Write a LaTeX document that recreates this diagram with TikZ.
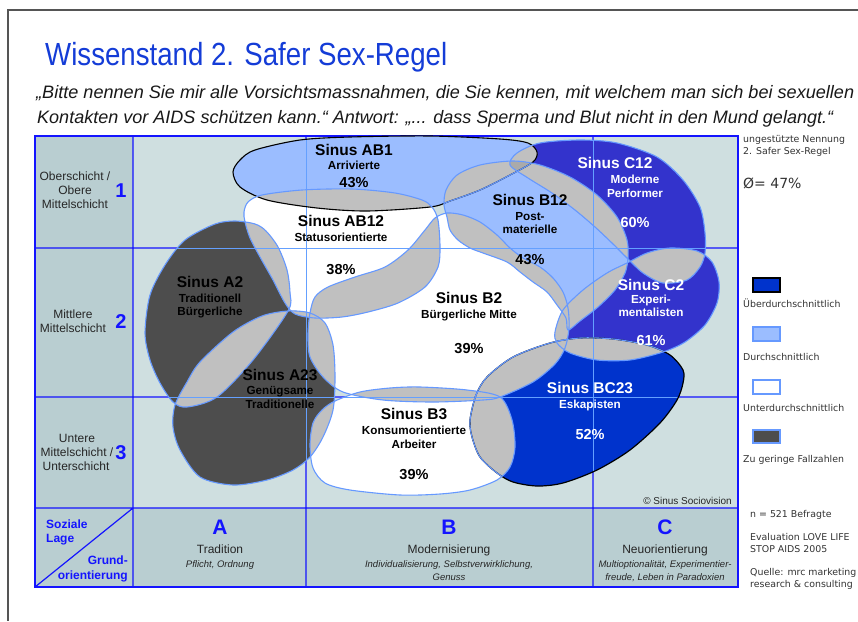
\documentclass[tikz,border=0pt]{standalone}
\usepackage{fontspec}
\usepackage{graphicx}
\setmainfont{Liberation Sans}
\newfontfamily\verd{DejaVu Sans}
\definecolor{titleblue}{RGB}{20,60,215}
\definecolor{gridblue}{RGB}{20,20,255}
\definecolor{lgridc}{RGB}{100,160,255}
\definecolor{bgchart}{RGB}{207,223,224}
\definecolor{bglabel}{RGB}{185,206,209}
\definecolor{lightfill}{RGB}{155,189,255}
\definecolor{midblue}{RGB}{51,51,204}
\definecolor{deepblue}{RGB}{0,51,204}
\definecolor{darkfill}{RGB}{77,77,77}
\definecolor{ovgray}{RGB}{192,192,192}
\definecolor{ovgrayd}{RGB}{170,170,170}
\definecolor{outlc}{RGB}{102,153,255}
\definecolor{legtext}{RGB}{51,51,51}
\definecolor{framec}{RGB}{85,85,85}

\newcommand\sABone{plot[smooth cycle] coordinates{(233,172) (240,160) (255,150) (300,140) (350,137) (430,136) (500,139) (528,143) (537,152) (533,162) (510,175) (480,190) (450,201) (430,207) (367,211) (317,208) (267,200) (240,187)}}
\newcommand\sABtw{plot[smooth cycle] coordinates{(248,202) (262,195) (302,190) (352,189) (395,193) (422,200) (432,207) (438,220) (440,247) (438,267) (425,287) (398,303) (368,312) (342,317) (315,318) (295,314) (285,303) (273,280) (260,257) (250,238) (245,222) (244,212)}}
\newcommand\sAtwo{plot[smooth cycle] coordinates{(215,224) (235,221) (255,224) (266,231) (278,247) (287,270) (290,293) (288,311) (253,360) (217,397) (187,407) (173,402) (160,383) (150,360) (145,333) (150,295) (165,265) (185,240)}}
\newcommand\sAtt{plot[smooth cycle] coordinates{(175,405) (187,382) (200,362) (233,332) (262,316) (288,311) (310,313) (325,323) (333,345) (335,377) (333,410) (323,437) (310,457) (293,470) (267,480) (233,485) (200,477) (180,450) (173,427)}}
\newcommand\sBtwo{plot[smooth cycle] coordinates{(435,218) (447,213) (463,215) (480,222) (497,235) (510,248) (523,258) (540,267) (553,278) (563,292) (568,308) (569,328) (565,348) (555,364) (533,382) (500,397) (483,400) (433,402) (383,400) (343,392) (323,377) (310,357) (308,335) (310,313) (315,297) (328,287) (355,277) (385,267) (408,250) (425,230)}}
\newcommand\sBthree{plot[smooth cycle] coordinates{(310,445) (313,423) (322,410) (335,401) (360,392) (390,388) (420,387) (467,390) (500,397) (512,420) (515,447) (510,467) (497,480) (470,490) (440,494) (400,495) (350,490) (325,483) (313,468)}}
\newcommand\sBtw{plot[smooth cycle] coordinates{(447,217) (444,205) (446,190) (457,175) (480,165) (513,161) (540,165) (570,177) (597,195) (617,217) (627,240) (628,258) (625,273) (615,290) (598,307) (580,321) (568,330) (566,318) (557,305) (547,292) (533,282) (520,272) (507,262) (483,253) (470,248) (458,240) (450,230)}}
\newcommand\sCtw{plot[smooth cycle] coordinates{(510,165) (517,153) (540,143) (580,140) (617,143) (657,157) (683,180) (700,207) (705,233) (705,253) (700,267) (687,280) (663,283) (643,273) (627,258) (612,243) (595,227) (575,210) (552,193) (528,178)}}
\newcommand\sCtwo{plot[smooth cycle] coordinates{(555,332) (563,310) (583,290) (607,273) (627,263) (647,253) (670,248) (697,251) (712,262) (719,282) (717,303) (705,325) (685,342) (663,352) (630,360) (597,360) (570,353) (557,343)}}
\newcommand\sBCtt{plot[smooth cycle] coordinates{(470,420) (476,395) (487,377) (513,357) (550,343) (580,338) (613,339) (647,345) (670,355) (683,370) (683,383) (677,400) (660,423) (630,450) (597,470) (563,483) (537,486) (513,482) (497,473) (480,457) (472,437)}}

\newcommand\ovl[2]{\begin{scope}\clip #1; \fill[ovgray] #2;\end{scope}}
\newcommand\lgridlines{\draw[lgridc, line width=0.9pt] (306,136)--(306,508) (593,136)--(593,508) (133,248)--(738,248) (133,397)--(738,397);}

\begin{document}
\begin{tikzpicture}[x=1pt,y=-1pt,
  shapeline/.style={draw=outlc, line width=1.1pt},
  ttl/.style={anchor=base, inner sep=0, font=\bfseries\fontsize{15.5}{18}\selectfont},
  sublab/.style={anchor=base, inner sep=0, font=\bfseries\fontsize{11.7}{14}\selectfont},
  pct/.style={anchor=base, inner sep=0, font=\bfseries\fontsize{14.5}{17}\selectfont},
  rowlab/.style={anchor=base, inner sep=0, font=\fontsize{12}{14}\selectfont, text=black!85},
  bignum/.style={anchor=base, inner sep=0, font=\bfseries\fontsize{20}{22}\selectfont, text=gridblue},
  bigletter/.style={anchor=base, inner sep=0, font=\bfseries\fontsize{21}{24}\selectfont, text=gridblue},
  collab/.style={anchor=base, inner sep=0, font=\fontsize{12}{14}\selectfont, text=black!85},
  colsub/.style={anchor=base, inner sep=0, font=\itshape\fontsize{9.5}{11}\selectfont, text=black!85},
  cornerlab/.style={inner sep=0, font=\bfseries\fontsize{12}{14}\selectfont, text=gridblue},
  legtxt/.style={anchor=base west, inner sep=0, font=\verd\fontsize{9.4}{11}\selectfont, text=legtext},
  legbox/.style={line width=1.2pt},
  gridline/.style={draw=gridblue, line width=1.2pt}
]
\useasboundingbox (0,0) rectangle (858,621);
\fill[white] (0,0) rectangle (858,621);
% slide frame
\draw[framec, line width=1.4pt] (858,10) -- (8,10) -- (8,621);
% title and question
\node[anchor=base west, inner sep=0, text=titleblue] (title) at (45,65)
  {\resizebox{402pt}{\height}{\fontsize{32}{36}\selectfont Wissenstand 2. Safer Sex-Regel}};
\node[anchor=base west, inner sep=0, text=black!90] (q1) at (36,98)
  {\resizebox{818pt}{\height}{\itshape\fontsize{18}{20}\selectfont „Bitte nennen Sie mir alle Vorsichtsmassnahmen, die Sie kennen, mit welchem man sich bei sexuellen}};
\node[anchor=base west, inner sep=0, text=black!90] (q2) at (37,123)
  {\resizebox{796pt}{\height}{\itshape\fontsize{18}{20}\selectfont Kontakten vor AIDS schützen kann.“ Antwort: „... dass Sperma und Blut nicht in den Mund gelangt.“}};
% backgrounds
\fill[bglabel] (35,136) rectangle (133,508);
\fill[bglabel] (35,508) rectangle (738,587);
\fill[bgchart] (133,136) rectangle (738,508);
% grid
\draw[gridline] (306,136)--(306,587) (593,136)--(593,587)
  (35,248)--(738,248) (35,397)--(738,397) (35,508)--(738,508)
  (133,136)--(133,587) (35,587)--(133,508);
\draw[gridblue, line width=1.6pt] (35,136) rectangle (738,587);
% shape fills
\fill[lightfill] \sABone;
\fill[white] \sABtw;
\fill[darkfill] \sAtwo;
\fill[darkfill] \sAtt;
\fill[white] \sBtwo;
\fill[white] \sBthree;
\fill[lightfill] \sBtw;
\fill[midblue] \sCtw;
\fill[midblue] \sCtwo;
\fill[deepblue] \sBCtt;
% overlaps
\ovl{\sABone}{\sABtw}
\ovl{\sABone}{\sBtw}
\ovl{\sABone}{\sCtw}
\ovl{\sBtw}{\sCtw}
\begin{scope}\clip \sABone; \clip \sBtw; \fill[ovgrayd] \sCtw;\end{scope}
\ovl{\sAtwo}{\sABtw}
\ovl{\sAtwo}{\sAtt}
\ovl{\sAtwo}{\sBtwo}
\ovl{\sAtt}{\sABtw}
\ovl{\sAtt}{\sBtwo}
\ovl{\sAtt}{\sBthree}
\ovl{\sABtw}{\sBtwo}
\ovl{\sBtwo}{\sBtw}
\ovl{\sBtw}{\sCtwo}
\ovl{\sCtw}{\sCtwo}
\ovl{\sCtwo}{\sBCtt}
\ovl{\sBtwo}{\sBCtt}
\ovl{\sBtwo}{\sCtwo}
\ovl{\sBthree}{\sBCtt}
\ovl{\sBtwo}{\sBthree}
\ovl{\sBtw}{\sBCtt}
% light grid lines over shapes
\foreach \s in {\sABone,\sABtw,\sAtwo,\sAtt,\sBtwo,\sBthree,\sBtw,\sCtw,\sCtwo,\sBCtt}{
  \begin{scope}\clip \s; \lgridlines\end{scope}
}
% outlines
\draw[black, line width=1.1pt] \sABone;
\draw[black, line width=1.2pt] \sBCtt;
\begin{scope}\clip \sBtw; \draw[shapeline] \sABone;\end{scope}
\foreach \s in {\sCtwo,\sBthree,\sBtwo}{
  \begin{scope}\clip \s; \draw[shapeline] \sBCtt;\end{scope}
}
\foreach \s in {\sABtw,\sAtwo,\sAtt,\sBtwo,\sBthree,\sBtw,\sCtw,\sCtwo}{
  \draw[shapeline] \s;
}
% shape labels
\node[ttl] (tAB1) at (354,155) {Sinus AB1};
\node[sublab] (sAB1) at (354,169) {Arrivierte};
\node[pct] (pAB1) at (354,187) {43\%};
\node[ttl] (tAB12) at (341,226) {Sinus AB12};
\node[sublab] (sAB12) at (341,241) {Statusorientierte};
\node[pct] (pAB12) at (341,274) {38\%};
\node[ttl] (tA2) at (210,287) {Sinus A2};
\node[sublab] (sA2a) at (210,302) {Traditionell};
\node[sublab] (sA2b) at (210,315) {Bürgerliche};
\node[ttl] (tA23) at (280,380) {Sinus A23};
\node[sublab] (sA23a) at (280,394) {Genügsame};
\node[sublab] (sA23b) at (280,408) {Traditionelle};
\node[ttl] (tB2) at (469,303) {Sinus B2};
\node[sublab] (sB2) at (469,318) {Bürgerliche Mitte};
\node[pct] (pB2) at (469,353) {39\%};
\node[ttl] (tB3) at (414,419) {Sinus B3};
\node[sublab] (sB3a) at (414,434) {Konsumorientierte};
\node[sublab] (sB3b) at (414,448) {Arbeiter};
\node[pct] (pB3) at (414,479) {39\%};
\node[ttl] (tB12) at (530,205) {Sinus B12};
\node[sublab] (sB12a) at (530,220) {Post-};
\node[sublab] (sB12b) at (530,233) {materielle};
\node[pct] (pB12) at (530,264) {43\%};
\node[ttl, text=white] (tC12) at (615,168) {Sinus C12};
\node[sublab, text=white] (sC12a) at (635,183) {Moderne};
\node[sublab, text=white] (sC12b) at (635,197) {Performer};
\node[pct, text=white] (pC12) at (635,227) {60\%};
\node[ttl, text=white] (tC2) at (651,290) {Sinus C2};
\node[sublab, text=white] (sC2a) at (651,303) {Experi-};
\node[sublab, text=white] (sC2b) at (651,316) {mentalisten};
\node[pct, text=white] (pC2) at (651,345) {61\%};
\node[ttl, text=white] (tBC23) at (590,393) {Sinus BC23};
\node[sublab, text=white] (sBC23) at (590,408) {Eskapisten};
\node[pct, text=white] (pBC23) at (590,439) {52\%};
% row labels
\node[rowlab] (r1a) at (75,180) {Oberschicht /};
\node[rowlab] (r1b) at (75,194) {Obere};
\node[rowlab] (r1c) at (75,208) {Mittelschicht};
\node[bignum] (n1) at (121,197) {1};
\node[rowlab] (r2a) at (73,318) {Mittlere};
\node[rowlab] (r2b) at (73,332) {Mittelschicht};
\node[bignum] (n2) at (121,328) {2};
\node[rowlab] (r3a) at (77,442) {Untere};
\node[rowlab] (r3b) at (77,456) {Mittelschicht /};
\node[rowlab] (r3c) at (76,470) {Unterschicht};
\node[bignum] (n3) at (121,459) {3};
% corner cell
\node[cornerlab, anchor=base west] (cs1) at (46,528) {Soziale};
\node[cornerlab, anchor=base west] (cs2) at (46,542) {Lage};
\node[cornerlab, anchor=base east] (cg1) at (128,564) {Grund-};
\node[cornerlab, anchor=base east] (cg2) at (128,579) {orientierung};
% column labels
\node[bigletter] (lA) at (220,534) {A};
\node[collab] (cA) at (220,553) {Tradition};
\node[colsub] (cA1) at (220,567) {Pflicht, Ordnung};
\node[bigletter] (lB) at (449,534) {B};
\node[collab] (cB) at (449,553) {Modernisierung};
\node[colsub] (cB1) at (449,567) {Individualisierung, Selbstverwirklichung,};
\node[colsub] (cB2) at (449,580) {Genuss};
\node[bigletter] (lC) at (665,534) {C};
\node[collab] (cC) at (665,553) {Neuorientierung};
\node[colsub] (cC1) at (665,567) {Multioptionalität, Experimentier-};
\node[colsub] (cC2) at (665,580) {freude, Leben in Paradoxien};
\node[anchor=base east, inner sep=0, font=\fontsize{10}{12}\selectfont, text=black!85] (copy) at (732,504) {© Sinus Sociovision};
% legend
\node[legtxt] (lg1) at (743,142) {ungestützte Nennung};
\node[legtxt] (lg2) at (743,154) {2. Safer Sex-Regel};
\node[legtxt, font=\verd\fontsize{14}{16}\selectfont] (avg) at (743,188) {Ø= 47\%};
\draw[legbox, fill=deepblue, draw=black] (753,278) rectangle (780,292);
\node[legtxt] (lk1) at (743,307) {Überdurchschnittlich};
\draw[legbox, fill=lightfill, draw=outlc] (753,327) rectangle (780,341);
\node[legtxt] (lk2) at (743,360) {Durchschnittlich};
\draw[legbox, fill=white, draw=outlc] (753,380) rectangle (780,394);
\node[legtxt] (lk3) at (743,411) {Unterdurchschnittlich};
\draw[legbox, fill=darkfill, draw=outlc] (753,430) rectangle (780,443);
\node[legtxt] (lk4) at (743,462) {Zu geringe Fallzahlen};
\node[legtxt] (ib1) at (750,517) {n = 521 Befragte};
\node[legtxt] (ib2) at (750,540) {Evaluation LOVE LIFE};
\node[legtxt] (ib3) at (750,552) {STOP AIDS 2005};
\node[legtxt] (ib4) at (750,575) {Quelle: mrc marketing};
\node[legtxt] (ib5) at (750,587) {research \& consulting};
\end{tikzpicture}
\end{document}
